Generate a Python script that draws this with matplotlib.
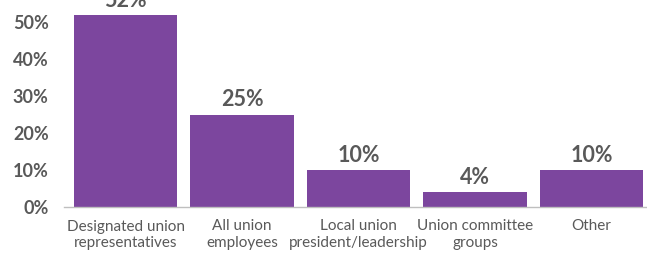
import matplotlib
matplotlib.use('Agg')
import matplotlib.pyplot as plt

categorias = ['Designated union\nrepresentatives', 'All union\nemployees',
              'Local union\npresident/leadership', 'Union committee\ngroups', 'Other']
valores = [52, 25, 10, 4, 10]
ticks = [0, 10, 20, 30, 40, 50]

morado = '#7C469E'
gris = '#595959'

fig = plt.figure(figsize=(6.47, 2.54), dpi=100)
ax = fig.add_axes([64/647, 47/254, 583/647, 207/254])

x = range(len(valores))
ax.bar(x, valores, width=0.885, color=morado, zorder=2)

# etiquetas de valor sobre cada barra
for xi, v in zip(x, valores):
    ax.annotate(f'{v}%', (xi, v), xytext=(0, 3), textcoords='offset points',
                ha='center', va='bottom', fontsize=15.5, fontweight='bold',
                color=gris, family='Lato', annotation_clip=False)

ax.set_xlim(-0.528, 4.476)
ax.set_ylim(0, 56)
ax.set_yticks(ticks)
ax.set_yticklabels([f'{t}%' for t in ticks], fontsize=13, fontweight='bold',
                   color=gris, family='Lato')
ax.set_xticks(list(x))
ax.set_xticklabels(categorias, fontsize=11, color=gris, family='Lato',
                   fontweight='normal', linespacing=1.2)
ax.tick_params(axis='both', length=0)
ax.tick_params(axis='y', pad=11)
ax.tick_params(axis='x', pad=9)

for s in ['top', 'right', 'left']:
    ax.spines[s].set_visible(False)
ax.spines['bottom'].set_color('#BFBFBF')
ax.spines['bottom'].set_linewidth(1)

fig.savefig('out.png', dpi=100)
